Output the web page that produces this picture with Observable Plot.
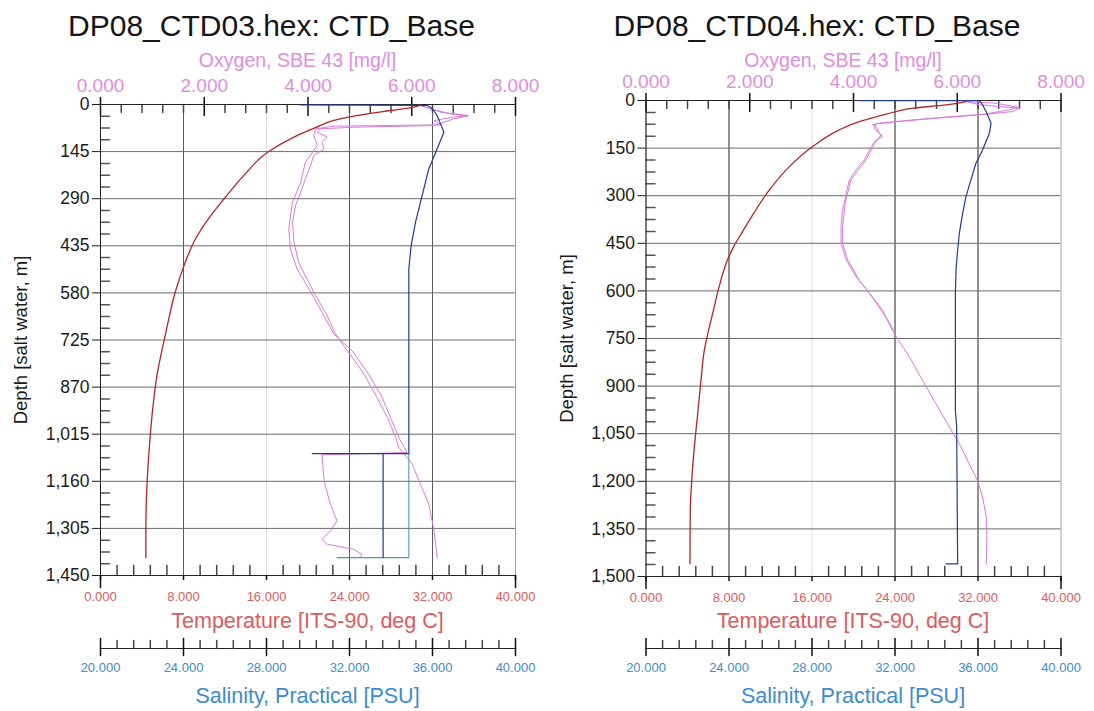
<!DOCTYPE html>
<html><head><meta charset="utf-8">
<script src="https://cdn.jsdelivr.net/npm/d3@7"></script>
<script src="https://cdn.jsdelivr.net/npm/@observablehq/plot@0.6"></script>
<style>
body{margin:0;background:#fff;font-family:"Liberation Sans",Arial,sans-serif;}
#root{position:relative;width:1094px;height:711px;overflow:hidden;background:#fff;}
.abs{position:absolute;}
.lbl{position:absolute;transform:translate(-50%,-50%);white-space:nowrap;line-height:1;}
</style></head><body><div id="root"></div>
<script>
// ---------- tick labels / axis values ----------
const titles = ["DP08_CTD03.hex: CTD_Base", "DP08_CTD04.hex: CTD_Base"];
const oxLabel = "Oxygen, SBE 43 [mg/l]";
const tempLabel = "Temperature [ITS-90, deg C]";
const salLabel = "Salinity, Practical [PSU]";
const depthLabel = "Depth [salt water, m]";
const oxTicks = [0, 2, 4, 6, 8];
const tempTicks = [0, 8, 16, 24, 32, 40];
const salTicks = [20, 24, 28, 32, 36, 40];
const depthTicks03 = [0, 145, 290, 435, 580, 725, 870, 1015, 1160, 1305, 1450];
const depthTicks04 = [0, 150, 300, 450, 600, 750, 900, 1050, 1200, 1350, 1500];

// ---------- CTD03 ----------
const tDepth03 = [2, 8, 18.5, 36, 49, 73, 101, 147, 219, 291, 352, 414, 496, 578, 707, 830, 953, 1076, 1159, 1313, 1395];
const temp03 = [30.8, 30.2, 27.95, 24.4, 22.5, 20.6, 18.6, 16.1, 13.8, 11.9, 10.4, 9.15, 8.05, 7.2, 6.27, 5.46, 4.98, 4.66, 4.5, 4.37, 4.37];
const sDepth03 = [1, 3, 8.3, 18.5, 34, 59.6, 85.3, 136.7, 198.3, 280.5, 362.6, 434.5, 506.4, 706.8, 1074.5, 1074.5, 1074.5, 1395];
const sal03 = [29.64, 35.74, 35.9, 36.06, 36.22, 36.39, 36.55, 36.22, 35.82, 35.5, 35.18, 34.97, 34.86, 34.86, 34.86, 30.2, 33.62, 33.62];
const s2Depth03 = [1395, 1395, 1074.5];
const sal2_03 = [31.4, 34.86, 34.86];
const oDepth03a = [1.1, 13.4, 28.8, 36, 44.2, 64.7, 69.9, 75, 85.3, 100.7, 116.1, 136.7, 157.2, 188, 229, 270.2, 311.3, 362.6, 424.3, 485.9, 537.3, 588.6, 650.3, 706.8, 758, 830, 902, 963.6, 1025, 1056, 1074.5, 1107.4, 1158.7, 1230.6, 1312.8, 1395];
const oxy03a = [6.14, 6.36, 6.75, 7.07, 6.81, 6.43, 4.88, 4.24, 4.18, 4.37, 4.27, 4.31, 4.11, 4.05, 3.95, 3.86, 3.76, 3.70, 3.73, 3.82, 3.98, 4.15, 4.37, 4.53, 4.76, 5.08, 5.33, 5.53, 5.69, 5.75, 5.85, 6.01, 6.14, 6.33, 6.43, 6.49];
const oDepth03b = [3.1, 23.7, 34, 39.1, 49.3, 62.7, 66.8, 75, 95.6, 126.4, 177.7, 239.4, 301, 383.2, 444.8, 506.4, 568.1, 640, 706.8, 758, 830, 902, 963.6, 1025, 1056, 1071.4, 1078.6, 1158.7, 1230.6, 1282, 1312.8, 1338.5, 1354, 1369.3, 1384.7, 1395];
const oxy03b = [6.17, 6.56, 7.10, 6.81, 6.43, 6.56, 4.5, 4.15, 4.11, 4.18, 3.95, 3.86, 3.70, 3.63, 3.66, 3.79, 4.02, 4.27, 4.5, 4.85, 5.17, 5.43, 5.59, 5.75, 5.86, 5.91, 4.27, 4.31, 4.43, 4.56, 4.43, 4.27, 4.37, 4.88, 5.04, 5.01];

// ---------- CTD04 ----------
const tDepth04 = [3.3, 13.8, 24.3, 34.8, 48.5, 66.4, 92.6, 145.2, 208.3, 281.8, 355.4, 418.5, 460.5, 502.6, 586.7, 670.8, 728.6, 787.5, 882.1, 987.2, 1092.3, 1187, 1292, 1460];
const temp04 = [30.84, 28.92, 25.7, 24.1, 22.49, 20.56, 18.63, 16.06, 13.82, 11.89, 10.38, 9.2, 8.45, 7.85, 7.05, 6.43, 6.0, 5.62, 5.3, 4.98, 4.66, 4.43, 4.27, 4.24];
const sDepth04 = [0.1, 0.1, 13.8, 34.8, 71.6, 103.1, 155.7, 197.8, 250.3, 302.9, 355.4, 418.5, 471, 534.1, 607.7, 976.7, 1024, 1460, 1460];
const sal04 = [30.28, 36.06, 36.22, 36.39, 36.63, 36.55, 36.22, 35.9, 35.66, 35.42, 35.26, 35.1, 35.02, 34.94, 34.91, 34.91, 34.97, 35.02, 34.46];
const oDepth04a = [3.3, 13.8, 24.3, 34.8, 45.3, 61.1, 71.6, 76.9, 82.1, 103.1, 113.7, 124.2, 155.7, 187.2, 218.8, 250.3, 292.4, 344.9, 397.5, 450, 502.6, 555.2, 607.7, 660.3, 728.6, 808.5, 882.1, 955.7, 1029.2, 1081.8, 1144.9, 1197.4, 1250, 1313, 1376, 1460];
const oxy04a = [6.17, 6.43, 7.2, 7.07, 6.43, 5.14, 4.5, 4.37, 4.43, 4.5, 4.56, 4.43, 4.31, 4.21, 4.05, 3.92, 3.86, 3.79, 3.76, 3.76, 3.86, 4.05, 4.31, 4.56, 4.76, 5.08, 5.33, 5.59, 5.85, 6.04, 6.23, 6.39, 6.49, 6.56, 6.57, 6.56];
const oDepth04b = [3.3, 8.5, 21.2, 29.6, 42.2, 52.7, 66.4, 73.7, 87.4, 108.4, 145.2, 187.2, 250.3, 323.9, 397.5, 450, 502.6, 565.7, 628.7, 691.8, 728.6];
const oxy04b = [6.14, 6.75, 7.17, 7.0, 6.56, 5.78, 4.88, 4.43, 4.4, 4.53, 4.37, 4.24, 3.95, 3.84, 3.79, 3.79, 3.89, 4.11, 4.4, 4.66, 4.79];

// ---------- helpers ----------
const OX = 40 / 8;                 // temperature units per mg/l on the shared x scale
const salToX = s => (s - 20) * 2;  // salinity axis 20..40 on the shared 0..40 x scale
const rows = (depths, vals) => depths.map((d, i) => ({d, v: vals[i]}));
const tickShape = {draw(ctx, l) { ctx.moveTo(0, 0); ctx.lineTo(0, -l); }};
const C = {
  red: "#b52428", redTxt: "#dc5b5b", blue: "#223a94", teal: "#3ea2ad", blueTxt: "#3c8ccf",
  pink: "#d97ad9", pinkTxt: "#e08ce0", grid: "#6a6a6a", ink: "#222"
};
const font = '"Liberation Sans", Arial, sans-serif';
const root = document.getElementById("root");

function addLabel(text, x, y, size, color) {
  const el = document.createElement("div");
  el.className = "lbl";
  el.textContent = text;
  el.style.left = x + "px"; el.style.top = y + "px";
  el.style.fontSize = size + "px"; el.style.color = color;
  root.appendChild(el);
}
function place(node, left, top) {
  const w = document.createElement("div");
  w.className = "abs"; w.style.left = left + "px"; w.style.top = top + "px";
  w.appendChild(node); root.appendChild(w);
}

function panel(p) {
  const W = 547;
  const depthMax = p.depthTicks[p.depthTicks.length - 1];
  const step = p.depthTicks[1] / 4;
  const depthMinor = d3.range(step, depthMax, step).filter(d => Math.abs(d / p.depthTicks[1] - Math.round(d / p.depthTicks[1])) > 1e-6);
  const topMinor = d3.range(0, 40.001, 2).filter(x => x % 10 !== 0);
  const botMinor = d3.range(0, 40.001, 1.6).filter(x => Math.abs(x / 8 - Math.round(x / 8)) > 1e-6);

  const main = Plot.plot({
    width: W, height: 595,
    marginTop: p.mt, marginBottom: p.mb, marginLeft: p.ml, marginRight: p.mr,
    style: {fontFamily: font, background: "transparent", overflow: "visible", color: C.ink},
    x: {domain: [0, 40]},
    y: {domain: [0, depthMax], reverse: true},
    marks: [
      Plot.gridX([16], {stroke: "#dedede", strokeOpacity: 1}),
      Plot.gridX([8, 24, 32], {stroke: p.gridX, strokeOpacity: 1}),
      Plot.gridY(p.depthTicks.slice(1, -1), {stroke: C.grid, strokeOpacity: 1}),
      Plot.frame({stroke: "#a0a0a0"}),
      // oxygen (upper axis) ticks
      Plot.vector(topMinor, {x: d => d, y: 0, length: 8, rotate: 180, anchor: "start", shape: tickShape, stroke: "#444"}),
      Plot.vector(oxTicks, {x: d => d * OX, y: 0, length: 11, rotate: 180, anchor: "start", shape: tickShape, stroke: "#111"}),
      Plot.vector(oxTicks, {x: d => d * OX, y: 0, length: 7, rotate: 0, anchor: "start", shape: tickShape, stroke: "#111"}),
      // temperature (lower axis) ticks
      Plot.vector(botMinor, {x: d => d, y: depthMax, length: 10, rotate: 0, anchor: "start", shape: tickShape, stroke: "#444"}),
      Plot.vector(tempTicks, {x: d => d, y: depthMax, length: 4, rotate: 180, anchor: "start", shape: tickShape, stroke: "#111"}),
      Plot.vector([0, 40], {x: d => d, y: depthMax, length: 12, rotate: 180, anchor: "start", shape: tickShape, stroke: "#111"}),
      // depth minor ticks (inside)
      Plot.vector(depthMinor, {x: 0, y: d => d, length: 9, rotate: 90, anchor: "start", shape: tickShape, stroke: "#555"}),
      Plot.ruleX([0], {stroke: "#222"}),
      Plot.ruleY([0, depthMax], {stroke: "#222"}),
      Plot.axisY({anchor: "left", ticks: p.depthTicks, tickSize: 8, tickPadding: 3, tickFormat: d3.format(","), fontSize: 17.5, color: "#1a1a1a", label: null}),
      Plot.axisX({anchor: "top", ticks: oxTicks.map(o => o * OX), tickFormat: x => (x / OX).toFixed(3), tickSize: 0, tickPadding: 13, fontSize: 19, color: C.pinkTxt, label: null}),
      Plot.axisX({anchor: "bottom", ticks: tempTicks, tickFormat: d => d.toFixed(3), tickSize: 0, tickPadding: 16, fontSize: 13, color: C.redTxt, label: null}),
      Plot.text([depthLabel], {frameAnchor: "left", dx: -79, rotate: -90, textAnchor: "middle", text: d => d, fontSize: 18.5, fill: "#1a1a1a"}),
      // data
      ...p.oxy.map(s => Plot.line(s, {x: r => r.v * OX, y: "d", stroke: C.pink, strokeWidth: 1})),
      Plot.line(p.temp, {x: "v", y: "d", stroke: C.red, strokeWidth: 1.3, curve: "monotone-y"}),
      ...(p.sal2 ? [Plot.line(p.sal2, {x: r => salToX(r.v), y: "d", stroke: C.teal, strokeWidth: 1.1})] : []),
      Plot.line(p.sal, {x: r => salToX(r.v), y: "d", stroke: C.blue, strokeWidth: 1.2})
    ]
  });
  place(main, p.left, 40);

  const salMinor = d3.range(20, 40.001, 0.8).filter(s => Math.abs((s - 20) / 4 - Math.round((s - 20) / 4)) > 1e-6);
  const salAxis = Plot.plot({
    width: W, height: 76, marginTop: 5, marginBottom: 63, marginLeft: p.ml, marginRight: p.mr,
    style: {fontFamily: font, background: "transparent", overflow: "visible"},
    x: {domain: [20, 40]},
    y: {domain: [0, 1], axis: null},
    marks: [
      Plot.ruleY([0], {stroke: "#222"}),
      Plot.vector(salMinor, {x: d => d, y: 0, length: 8, rotate: 0, anchor: "start", shape: tickShape, stroke: "#444"}),
      Plot.vector(salTicks, {x: d => d, y: 0, length: 10, rotate: 0, anchor: "start", shape: tickShape, stroke: "#111"}),
      Plot.vector(salTicks, {x: d => d, y: 0, length: 7, rotate: 180, anchor: "start", shape: tickShape, stroke: "#111"}),
      Plot.axisX({anchor: "bottom", ticks: salTicks, tickFormat: d => d.toFixed(3), tickSize: 0, tickPadding: 14, fontSize: 13, color: C.blueTxt, label: null})
    ]
  });
  place(salAxis, p.left, 635);

  const cx = p.left + p.ml + (W - p.ml - p.mr) / 2;
  addLabel(p.title, cx - 36, 26, 30, "#151515");
  addLabel(oxLabel, cx - 10, 61, 19.5, C.pinkTxt);
  addLabel(tempLabel, cx, 622, 21.5, C.redTxt);
  addLabel(salLabel, cx, 697, 21.5, C.blueTxt);
}

panel({
  left: 0, ml: 100, mr: 32, mt: 64, mb: 60, title: titles[0], depthTicks: depthTicks03, gridX: "#5a5a5a",
  temp: rows(tDepth03, temp03), sal: rows(sDepth03, sal03), sal2: rows(s2Depth03, sal2_03),
  oxy: [rows(oDepth03a, oxy03a), rows(oDepth03b, oxy03b)]
});
panel({
  left: 547, ml: 98.5, mr: 33.5, mt: 60, mb: 59, title: titles[1], depthTicks: depthTicks04, gridX: "#222",
  temp: rows(tDepth04, temp04), sal: rows(sDepth04, sal04), sal2: null,
  oxy: [rows(oDepth04a, oxy04a), rows(oDepth04b, oxy04b)]
});
</script></body></html>
